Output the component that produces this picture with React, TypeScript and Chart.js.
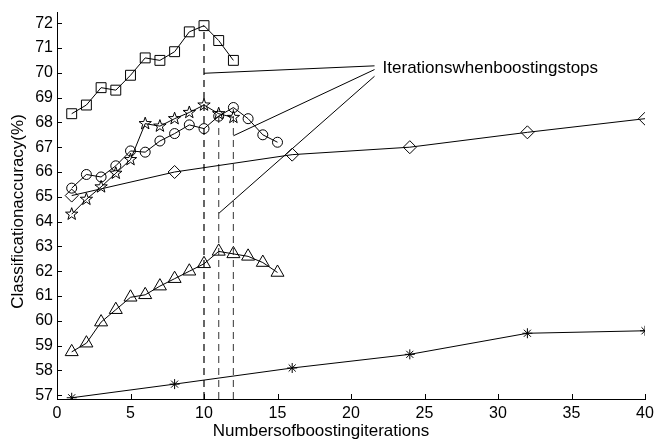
import React, { useEffect, useRef } from "react";
import { Chart, registerables } from "chart.js";

Chart.register(...registerables);

// ---- data ----
const squareIters = [1, 2, 3, 4, 5, 6, 7, 8, 9, 10, 11, 12];
const squareAcc = [68.35, 68.7, 69.4, 69.3, 69.9, 70.6, 70.5, 70.85, 71.65, 71.9, 71.3, 70.5];

const starIters = [1, 2, 3, 4, 5, 6, 7, 8, 9, 10, 11, 12];
const starAcc = [64.3, 64.9, 65.4, 65.95, 66.5, 67.95, 67.85, 68.15, 68.4, 68.7, 68.35, 68.2];

const circleIters = [1, 2, 3, 4, 5, 6, 7, 8, 9, 10, 11, 12, 13, 14, 15];
const circleAcc = [65.35, 65.9, 65.8, 66.25, 66.85, 66.8, 67.25, 67.55, 67.9, 67.75, 68.25, 68.6, 68.15, 67.5, 67.2];

const triangleIters = [1, 2, 3, 4, 5, 6, 7, 8, 9, 10, 11, 12, 13, 14, 15];
const triangleAcc = [58.75, 59.1, 59.95, 60.45, 60.95, 61.05, 61.4, 61.7, 62.0, 62.3, 62.8, 62.7, 62.6, 62.35, 61.95];

const diamondIters = [1, 8, 16, 24, 32, 40];
const diamondAcc = [65.05, 66.0, 66.7, 67.0, 67.6, 68.15];

const asteriskIters = [1, 8, 16, 24, 32, 40];
const asteriskAcc = [56.9, 57.45, 58.1, 58.65, 59.5, 59.6];

const stopIters = [10, 11, 12];
const stopTops = [71.9, 68.25, 68.55];
const stopColors = ["#000000", "#555555", "#555555"];

const noteText = "Iterationswhenboostingstops";
const noteX = 22.15;
const noteY = 70.0;
const calloutFromX = [21.6, 21.6, 21.6];
const calloutFromY = [70.28, 70.13, 69.86];
const calloutToX = [10, 12, 11];
const calloutToY = [69.98, 67.46, 64.33];

const xTicks = [0, 5, 10, 15, 20, 25, 30, 35, 40];
const yTicks = [57, 58, 59, 60, 61, 62, 63, 64, 65, 66, 67, 68, 69, 70, 71, 72];
const xMin = 0;
const xMax = 40;
const yMin = 56.85;
const yMax = 72.45;

const xTitle = "Numbersofboostingiterations";
const yTitle = "Classificationaccuracy(%)";

const FONT = '"Liberation Sans", Arial, Helvetica, sans-serif';
const STAR_DATASET = 1;

function pts(xs: number[], ys: number[]) {
  return xs.map((x, i) => ({ x, y: ys[i] }));
}

function drawPentagram(ctx: CanvasRenderingContext2D, cx: number, cy: number, R: number) {
  const r = R * 0.4;
  ctx.beginPath();
  for (let i = 0; i < 10; i++) {
    const rad = i % 2 === 0 ? R : r;
    const a = -Math.PI / 2 + (i * Math.PI) / 5;
    const px = cx + rad * Math.cos(a);
    const py = cy + rad * Math.sin(a);
    if (i === 0) ctx.moveTo(px, py);
    else ctx.lineTo(px, py);
  }
  ctx.closePath();
  ctx.stroke();
}

export default function App() {
  const ref = useRef<HTMLCanvasElement | null>(null);

  useEffect(() => {
    if (!ref.current) return;

    const series = (data: any[], style: any, radius: number) => ({
      data,
      borderColor: "#000",
      borderWidth: 1,
      pointStyle: style,
      pointRadius: radius,
      pointBorderColor: "#000",
      pointBackgroundColor: "rgba(0,0,0,0)",
      pointBorderWidth: 1,
      fill: false,
      tension: 0,
    });

    const datasets: any[] = [
      series(pts(squareIters, squareAcc), "rect", 7),
      series(pts(starIters, starAcc), "circle", 0),
      series(pts(circleIters, circleAcc), "circle", 5),
      series(pts(triangleIters, triangleAcc), "triangle", 7.5),
      series(pts(diamondIters, diamondAcc), "rectRot", 6.5),
      series(pts(asteriskIters, asteriskAcc), "star", 5),
    ];

    stopIters.forEach((it, i) => {
      datasets.push({
        data: [
          { x: it, y: yMin },
          { x: it, y: stopTops[i] },
        ],
        borderColor: stopColors[i],
        borderWidth: 1.2,
        borderDash: [7, 5],
        pointRadius: 0,
        fill: false,
      });
    });

    calloutToX.forEach((tx, i) => {
      datasets.push({
        data: [
          { x: calloutFromX[i], y: calloutFromY[i] },
          { x: tx, y: calloutToY[i] },
        ],
        borderColor: "#000",
        borderWidth: 1,
        pointRadius: 0,
        fill: false,
      });
    });

    const decor = {
      id: "decor",
      afterDraw(chart: any) {
        const ctx = chart.ctx;
        const xs = chart.scales.x;
        const ys = chart.scales.y;
        const area = chart.chartArea;
        ctx.save();
        ctx.strokeStyle = "#000";
        ctx.lineWidth = 1;

        // pentagram markers
        const meta = chart.getDatasetMeta(STAR_DATASET);
        meta.data.forEach((el: any) => drawPentagram(ctx, el.x, el.y, 6.5));

        // inward ticks
        ctx.beginPath();
        yTicks.forEach((v) => {
          const py = Math.round(ys.getPixelForValue(v)) + 0.5;
          ctx.moveTo(area.left, py);
          ctx.lineTo(area.left + 5, py);
        });
        xTicks.forEach((v) => {
          const px = Math.round(xs.getPixelForValue(v)) + 0.5;
          ctx.moveTo(px, area.bottom);
          ctx.lineTo(px, area.bottom - 5);
        });
        ctx.stroke();

        ctx.fillStyle = "#000";
        ctx.font = `17px ${FONT}`;
        ctx.textBaseline = "alphabetic";
        ctx.textAlign = "left";
        ctx.fillText(noteText, xs.getPixelForValue(noteX), ys.getPixelForValue(noteY));

        // axis titles
        ctx.textAlign = "center";
        ctx.textBaseline = "middle";
        ctx.fillText(xTitle, 321, 431);
        ctx.translate(18, (area.top + area.bottom) / 2 + 6);
        ctx.rotate(-Math.PI / 2);
        ctx.fillText(yTitle, 0, 0);
        ctx.restore();
      },
    };

    const chart = new Chart(ref.current, {
      type: "line",
      data: { datasets },
      options: {
        animation: false,
        responsive: false,
        maintainAspectRatio: false,
        layout: { padding: { top: 12, right: 9, left: 0, bottom: 0 } },
        plugins: {
          legend: { display: false },
          tooltip: { enabled: false },
          title: { display: false },
        },
        scales: {
          x: {
            type: "linear",
            min: xMin,
            max: xMax,
            afterBuildTicks: (s: any) => {
              s.ticks = xTicks.map((v) => ({ value: v }));
            },
            afterFit: (s: any) => {
              s.height = 42;
              s.paddingRight = 0;
              s.paddingLeft = 0;
            },
            grid: { display: false, drawTicks: false },
            border: { display: true, color: "#000", width: 1 },
            ticks: {
              color: "#000",
              padding: 5,
              maxRotation: 0,
              font: { family: FONT, size: 16 },
            },
          },
          y: {
            type: "linear",
            min: yMin,
            max: yMax,
            afterBuildTicks: (s: any) => {
              s.ticks = yTicks.map((v) => ({ value: v }));
            },
            afterFit: (s: any) => {
              s.width = 57;
              s.paddingTop = 0;
              s.paddingBottom = 0;
            },
            grid: { display: false, drawTicks: false },
            border: { display: true, color: "#000", width: 1 },
            ticks: {
              color: "#000",
              padding: 4,
              font: { family: FONT, size: 16 },
            },
          },
        },
      },
      plugins: [decor],
    } as any);

    return () => chart.destroy();
  }, []);

  return (
    <div style={{ position: "absolute", left: 0, top: 0, width: 654, height: 441, background: "#fff" }}>
      <canvas ref={ref} width={654} height={441} style={{ display: "block" }} />
    </div>
  );
}
